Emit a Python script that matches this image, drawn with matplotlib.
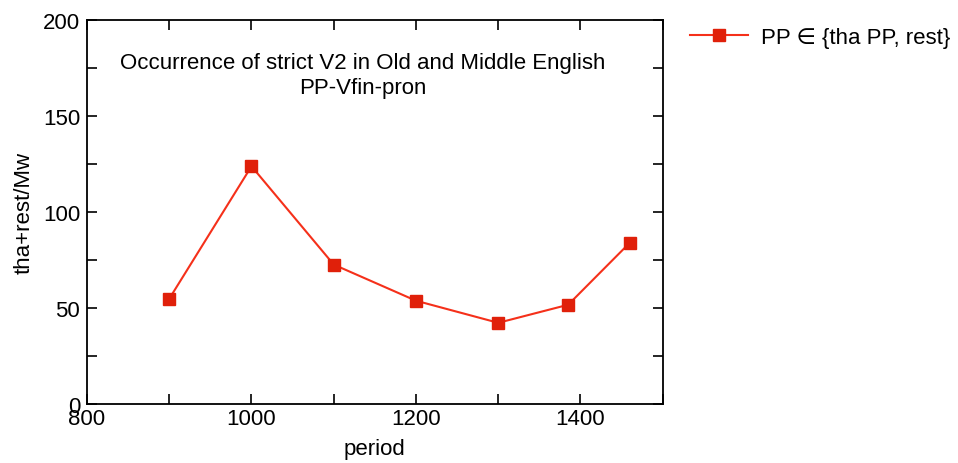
import matplotlib
matplotlib.use("Agg")
import matplotlib.pyplot as plt
from matplotlib.ticker import MultipleLocator

periods = [900, 1000, 1100, 1200, 1300, 1385, 1460]
values = [54.8, 123.8, 72.6, 53.8, 42.3, 51.7, 84.0]
series_label = "PP \u2208 {tha PP, rest}"
title_lines = ["Occurrence of strict V2 in Old and Middle English", "PP-Vfin-pron"]

plt.rcParams['font.family'] = ['Liberation Sans', 'DejaVu Sans']
FS = 16

fig = plt.figure(figsize=(9.58, 4.64), dpi=100)
ax = fig.add_axes([0.0908, 0.127, 0.601, 0.828])

ax.plot(periods, values, color='#f5301a', lw=1.5, marker='s', markersize=8,
        markerfacecolor='#e0200a', markeredgecolor='#e0200a', label=series_label)

ax.set_xlim(800, 1500)
ax.set_ylim(0, 200)
ax.xaxis.set_major_locator(MultipleLocator(200))
ax.xaxis.set_minor_locator(MultipleLocator(100))
ax.yaxis.set_major_locator(MultipleLocator(50))
ax.yaxis.set_minor_locator(MultipleLocator(25))
ax.tick_params(which='both', direction='in', top=True, right=True, width=1.2,
               labelsize=FS)
ax.tick_params(axis='y', pad=5)
ax.tick_params(axis='x', pad=3)
ax.tick_params(which='major', length=7)
ax.tick_params(which='minor', length=7)
for s in ax.spines.values():
    s.set_linewidth(1.3)

ax.set_xlabel("period", fontsize=FS, labelpad=6)
ax.set_ylabel("tha+rest/Mw", fontsize=FS, labelpad=6)

ax.text(0.479, 0.888, title_lines[0], transform=ax.transAxes, ha='center', va='center', fontsize=FS)
ax.text(0.479, 0.823, title_lines[1], transform=ax.transAxes, ha='center', va='center', fontsize=FS)

fig.legend(loc='center left', bbox_to_anchor=(0.720, 0.918), frameon=False, fontsize=FS,
           handlelength=2.6, handletextpad=0.6, borderpad=0, borderaxespad=0)

fig.savefig("out.png", dpi=100)
